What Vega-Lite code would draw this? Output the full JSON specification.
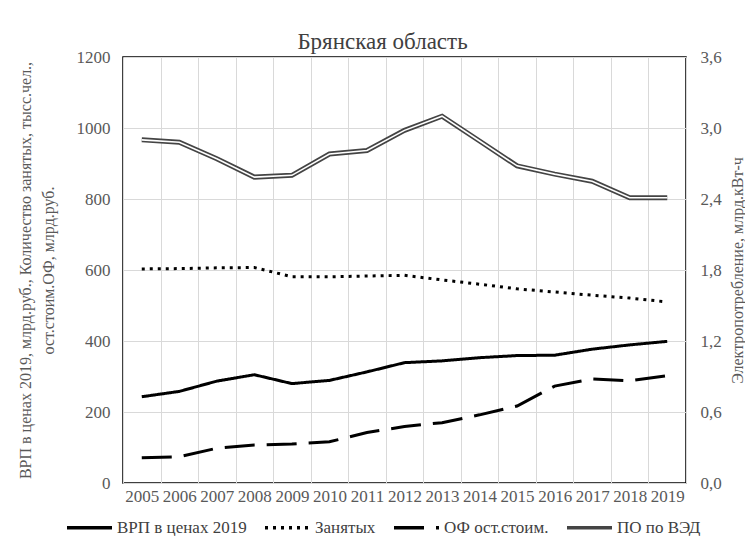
{
  "$schema": "https://vega.github.io/schema/vega-lite/v6.json",
  "width": 563,
  "height": 426,
  "padding": {"left": 17, "top": 31, "right": 0, "bottom": 0},
  "background": "white",
  "title": {"text": "Брянская область", "font": "Liberation Serif, DejaVu Serif, serif", "fontSize": 23, "fontWeight": "normal", "color": "#404040", "offset": -6, "dx": -22},
  "config": {
    "font": "Liberation Serif, DejaVu Serif, serif",
    "view": {"stroke": "black", "strokeWidth": 1.5},
    "axis": {"labelFont": "Liberation Serif, DejaVu Serif, serif", "titleFont": "Liberation Serif, DejaVu Serif, serif", "labelFontSize": 17, "titleFontSize": 16, "labelColor": "#595959", "titleColor": "#595959", "titleFontWeight": "normal", "ticks": false, "domain": false, "gridColor": "#d9d9d9", "gridWidth": 1},
    "legend": {"labelFont": "Liberation Serif, DejaVu Serif, serif", "labelFontSize": 17, "labelColor": "#404040"}
  },
  "datasets": {
    "main": [
      {"year": "2005", "series": "ВРП в ценах 2019", "value": 243},
      {"year": "2006", "series": "ВРП в ценах 2019", "value": 258},
      {"year": "2007", "series": "ВРП в ценах 2019", "value": 287},
      {"year": "2008", "series": "ВРП в ценах 2019", "value": 305},
      {"year": "2009", "series": "ВРП в ценах 2019", "value": 280},
      {"year": "2010", "series": "ВРП в ценах 2019", "value": 289},
      {"year": "2011", "series": "ВРП в ценах 2019", "value": 313},
      {"year": "2012", "series": "ВРП в ценах 2019", "value": 339},
      {"year": "2013", "series": "ВРП в ценах 2019", "value": 344},
      {"year": "2014", "series": "ВРП в ценах 2019", "value": 353},
      {"year": "2015", "series": "ВРП в ценах 2019", "value": 359},
      {"year": "2016", "series": "ВРП в ценах 2019", "value": 360},
      {"year": "2017", "series": "ВРП в ценах 2019", "value": 377},
      {"year": "2018", "series": "ВРП в ценах 2019", "value": 389},
      {"year": "2019", "series": "ВРП в ценах 2019", "value": 399},
      {"year": "2005", "series": "Занятых", "value": 603},
      {"year": "2006", "series": "Занятых", "value": 604},
      {"year": "2007", "series": "Занятых", "value": 606},
      {"year": "2008", "series": "Занятых", "value": 607},
      {"year": "2009", "series": "Занятых", "value": 581},
      {"year": "2010", "series": "Занятых", "value": 581},
      {"year": "2011", "series": "Занятых", "value": 583},
      {"year": "2012", "series": "Занятых", "value": 585},
      {"year": "2013", "series": "Занятых", "value": 572},
      {"year": "2014", "series": "Занятых", "value": 560},
      {"year": "2015", "series": "Занятых", "value": 547},
      {"year": "2016", "series": "Занятых", "value": 538},
      {"year": "2017", "series": "Занятых", "value": 529},
      {"year": "2018", "series": "Занятых", "value": 521},
      {"year": "2019", "series": "Занятых", "value": 510},
      {"year": "2005", "series": "ОФ ост.стоим.", "value": 71},
      {"year": "2006", "series": "ОФ ост.стоим.", "value": 74},
      {"year": "2007", "series": "ОФ ост.стоим.", "value": 98},
      {"year": "2008", "series": "ОФ ост.стоим.", "value": 107},
      {"year": "2009", "series": "ОФ ост.стоим.", "value": 110},
      {"year": "2010", "series": "ОФ ост.стоим.", "value": 116},
      {"year": "2011", "series": "ОФ ост.стоим.", "value": 142},
      {"year": "2012", "series": "ОФ ост.стоим.", "value": 159},
      {"year": "2013", "series": "ОФ ост.стоим.", "value": 170},
      {"year": "2014", "series": "ОФ ост.стоим.", "value": 192},
      {"year": "2015", "series": "ОФ ост.стоим.", "value": 217},
      {"year": "2016", "series": "ОФ ост.стоим.", "value": 273},
      {"year": "2017", "series": "ОФ ост.стоим.", "value": 293},
      {"year": "2018", "series": "ОФ ост.стоим.", "value": 288},
      {"year": "2019", "series": "ОФ ост.стоим.", "value": 302}
    ],
    "po": [
      {"year": "2005", "series": "ПО по ВЭД", "value": 2.90},
      {"year": "2006", "series": "ПО по ВЭД", "value": 2.88},
      {"year": "2007", "series": "ПО по ВЭД", "value": 2.74},
      {"year": "2008", "series": "ПО по ВЭД", "value": 2.585},
      {"year": "2009", "series": "ПО по ВЭД", "value": 2.60},
      {"year": "2010", "series": "ПО по ВЭД", "value": 2.78},
      {"year": "2011", "series": "ПО по ВЭД", "value": 2.81},
      {"year": "2012", "series": "ПО по ВЭД", "value": 2.98},
      {"year": "2013", "series": "ПО по ВЭД", "value": 3.10},
      {"year": "2014", "series": "ПО по ВЭД", "value": 2.89},
      {"year": "2015", "series": "ПО по ВЭД", "value": 2.68},
      {"year": "2016", "series": "ПО по ВЭД", "value": 2.61},
      {"year": "2017", "series": "ПО по ВЭД", "value": 2.55},
      {"year": "2018", "series": "ПО по ВЭД", "value": 2.41},
      {"year": "2019", "series": "ПО по ВЭД", "value": 2.41}
    ]
  },
  "encoding": {
    "x": {"field": "year", "type": "ordinal", "bandPosition": 0.5,
      "scale": {"type": "band", "paddingInner": 0, "paddingOuter": 0},
      "axis": {"title": null, "labelAngle": 0, "grid": true, "tickBand": "extent", "labelPadding": 5}}
  },
  "layer": [
    {
      "data": {"name": "main"},
      "mark": {"type": "line", "strokeWidth": 3, "strokeCap": "butt"},
      "encoding": {
        "y": {"field": "value", "type": "quantitative",
          "scale": {"domain": [0, 1200]},
          "axis": {"values": [0, 200, 400, 600, 800, 1000, 1200], "format": "d", "grid": true, "labelPadding": 13,
            "title": ["ВРП в ценах 2019, млрд.руб.,  Количество занятых, тысс.чел.,", "ост.стоим.ОФ, млрд.руб."], "titlePadding": 20, "titleLineHeight": 23}},
        "color": {"field": "series", "type": "nominal",
          "scale": {"domain": ["ВРП в ценах 2019", "Занятых", "ОФ ост.стоим.", "ПО по ВЭД"], "range": ["#000000", "#000000", "#000000", "#444444"]},
          "legend": {"title": null, "orient": "none", "legendX": -58, "legendY": 446, "direction": "horizontal", "symbolType": "stroke", "symbolSize": 2025, "symbolStrokeWidth": 3.5, "columnPadding": 11, "labelOffset": 3}},
        "strokeDash": {"field": "series", "type": "nominal",
          "scale": {"domain": ["ВРП в ценах 2019", "Занятых", "ОФ ост.стоим.", "ПО по ВЭД"], "range": [[1, 0], [3, 5], [30, 12], [1, 0]]},
          "legend": {"title": null, "orient": "none", "legendX": -58, "legendY": 446, "direction": "horizontal", "symbolType": "stroke", "symbolSize": 2025, "symbolStrokeWidth": 3.5, "columnPadding": 11, "labelOffset": 3}}
      }
    },
    {
      "data": {"name": "po"},
      "encoding": {
        "y": {"field": "value", "type": "quantitative",
          "scale": {"domain": [0, 3.6]},
          "axis": {"orient": "right", "values": [0, 0.6, 1.2, 1.8, 2.4, 3.0, 3.6], "grid": false, "labelPadding": 14,
            "labelExpr": "replace(format(datum.value, '.1f'), '.', ',')",
            "title": "Электропотребление, млрд.кВт-ч", "titleAngle": 270, "titleBaseline": "top", "titlePadding": 8}}
      },
      "layer": [
        {"mark": {"type": "line", "strokeWidth": 5, "color": "#444444"}},
        {"mark": {"type": "line", "strokeWidth": 1.6, "color": "#ffffff"}}
      ]
    }
  ],
  "resolve": {"scale": {"y": "independent"}}
}
